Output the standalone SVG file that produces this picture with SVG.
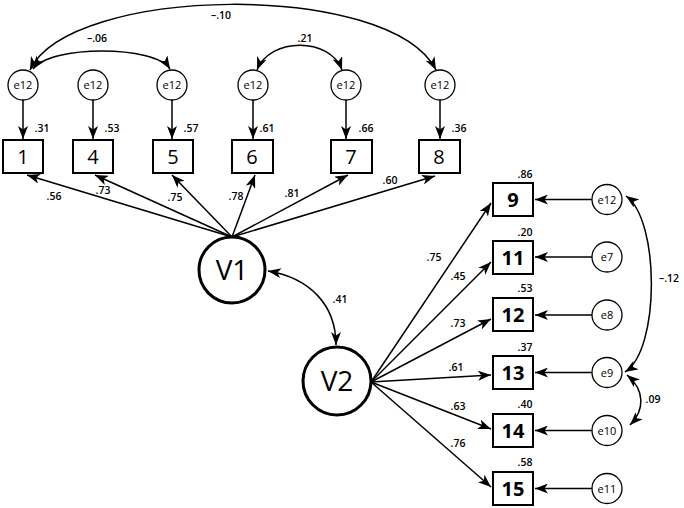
<svg xmlns="http://www.w3.org/2000/svg" width="684" height="508" viewBox="0 0 684 508">
<style>
text{font-family:"Open Sans","Liberation Sans",sans-serif;fill:#000;text-anchor:middle}
.num{font-size:10.5px;font-weight:600}
.el{font-size:11px}
.bl{font-size:20px}
.blb{font-size:20px;font-weight:700}
.vl{font-size:28px}
.e{fill:#fff;stroke:#000;stroke-width:1.3}
.box{fill:#fff;stroke:#000;stroke-width:2}
.lat{fill:#fff;stroke:#000;stroke-width:3}
.c{fill:none;stroke:#000;stroke-width:1.5}
.ar{marker-end:url(#ah)}
.dd{marker-start:url(#ah);marker-end:url(#ah)}
</style>
<defs>
<marker id="ah" viewBox="0 0 13 10" refX="13" refY="5" markerWidth="13" markerHeight="10" markerUnits="userSpaceOnUse" orient="auto-start-reverse">
<path d="M0,0 L13,5 L0,10 L3.5,5 z" fill="#000"/>
</marker>
</defs>
<g id="connectors">
<path class="c dd" d="M30,70 C70,-15 390,-20 436,70"/>
<path class="c dd" d="M33,69 C50,45 155,45 170,69"/>
<path class="c dd" d="M257,70 C270,37 330,37 342,70"/>
<path class="c dd" d="M626,196 C660,220 660,350 625,372"/>
<path class="c dd" d="M627,375 C645,390 645,410 630,425"/>
<path class="c dd" d="M268,271 C310,278 336,305 336,345"/>
<line class="c ar" x1="23" y1="100" x2="23" y2="139"/>
<line class="c ar" x1="93" y1="100" x2="93" y2="139"/>
<line class="c ar" x1="172" y1="100" x2="172" y2="139"/>
<line class="c ar" x1="253" y1="100" x2="253" y2="139"/>
<line class="c ar" x1="346" y1="100" x2="346" y2="139"/>
<line class="c ar" x1="440" y1="100" x2="440" y2="139"/>
<line class="c ar" x1="232" y1="237" x2="27" y2="175"/>
<line class="c ar" x1="232" y1="237" x2="95" y2="175"/>
<line class="c ar" x1="232" y1="237" x2="172" y2="175"/>
<line class="c ar" x1="232" y1="237" x2="255" y2="175"/>
<line class="c ar" x1="232" y1="237" x2="348" y2="175"/>
<line class="c ar" x1="232" y1="237" x2="435" y2="176"/>
<line class="c ar" x1="371" y1="382" x2="491" y2="203"/>
<line class="c ar" x1="371" y1="382" x2="491" y2="262"/>
<line class="c ar" x1="371" y1="382" x2="491" y2="319"/>
<line class="c ar" x1="371" y1="382" x2="491" y2="375"/>
<line class="c ar" x1="371" y1="382" x2="491" y2="429"/>
<line class="c ar" x1="371" y1="382" x2="491" y2="487"/>
<line class="c ar" x1="592" y1="199.5" x2="535" y2="199.5"/>
<line class="c ar" x1="592" y1="257" x2="535" y2="257"/>
<line class="c ar" x1="592" y1="315" x2="535" y2="315"/>
<line class="c ar" x1="592" y1="372.5" x2="535" y2="372.5"/>
<line class="c ar" x1="592" y1="430.5" x2="535" y2="430.5"/>
<line class="c ar" x1="592" y1="488.5" x2="535" y2="488.5"/>
<text class="num" x="221" y="19">–.10</text>
<text class="num" x="97" y="42">–.06</text>
<text class="num" x="305" y="42">.21</text>
<text class="num" x="669" y="282">–.12</text>
<text class="num" x="653" y="403">.09</text>
<text class="num" x="340" y="303">.41</text>
<text class="num" x="54" y="200">.56</text>
<text class="num" x="103" y="194">.73</text>
<text class="num" x="175" y="201">.75</text>
<text class="num" x="236" y="200">.78</text>
<text class="num" x="292" y="197">.81</text>
<text class="num" x="390" y="184">.60</text>
<text class="num" x="434" y="261">.75</text>
<text class="num" x="458" y="280">.45</text>
<text class="num" x="458" y="327">.73</text>
<text class="num" x="456" y="371">.61</text>
<text class="num" x="458" y="410">.63</text>
<text class="num" x="458" y="447">.76</text>
</g>
<g id="e1"><circle class="e" cx="23" cy="85" r="15"/><text class="el" x="23" y="89">e12</text></g>
<g id="e4"><circle class="e" cx="93" cy="85" r="15"/><text class="el" x="93" y="89">e12</text></g>
<g id="e5"><circle class="e" cx="172" cy="85" r="15"/><text class="el" x="172" y="89">e12</text></g>
<g id="e6"><circle class="e" cx="253" cy="85" r="15"/><text class="el" x="253" y="89">e12</text></g>
<g id="e7t"><circle class="e" cx="346" cy="85" r="15"/><text class="el" x="346" y="89">e12</text></g>
<g id="e8t"><circle class="e" cx="440" cy="85" r="15"/><text class="el" x="440" y="89">e12</text></g>
<g id="n1"><rect class="box" x="3" y="140" width="40" height="33"/><text class="bl" x="23" y="164">1</text><text class="num" x="42" y="132">.31</text></g>
<g id="n4"><rect class="box" x="73" y="140" width="40" height="33"/><text class="bl" x="93" y="164">4</text><text class="num" x="112" y="132">.53</text></g>
<g id="n5"><rect class="box" x="153" y="140" width="40" height="33"/><text class="bl" x="173" y="164">5</text><text class="num" x="191" y="132">.57</text></g>
<g id="n6"><rect class="box" x="232" y="140" width="41" height="33"/><text class="bl" x="252" y="164">6</text><text class="num" x="267" y="132">.61</text></g>
<g id="n7"><rect class="box" x="331" y="140" width="41" height="33"/><text class="bl" x="351" y="164">7</text><text class="num" x="366" y="132">.66</text></g>
<g id="n8"><rect class="box" x="419" y="140" width="41" height="33"/><text class="bl" x="439" y="164">8</text><text class="num" x="459" y="132">.36</text></g>
<g id="V1"><circle class="lat" cx="232" cy="270" r="33"/><text class="vl" x="232" y="280">V1</text></g>
<g id="V2"><circle class="lat" cx="337" cy="381" r="34"/><text class="vl" x="337" y="391">V2</text></g>
<g id="n9"><rect class="box" x="493" y="183" width="40" height="33"/><text class="blb" x="513" y="207">9</text><text class="num" x="525" y="178">.86</text></g>
<g id="n11"><rect class="box" x="493" y="241" width="40" height="33"/><text class="blb" x="513" y="265">11</text><text class="num" x="525" y="236">.20</text></g>
<g id="n12"><rect class="box" x="493" y="298" width="40" height="33"/><text class="blb" x="513" y="322">12</text><text class="num" x="525" y="292">.53</text></g>
<g id="n13"><rect class="box" x="493" y="356" width="40" height="33"/><text class="blb" x="513" y="380">13</text><text class="num" x="525" y="351">.37</text></g>
<g id="n14"><rect class="box" x="493" y="414" width="40" height="33"/><text class="blb" x="513" y="438">14</text><text class="num" x="525" y="408">.40</text></g>
<g id="n15"><rect class="box" x="493" y="472" width="40" height="33"/><text class="blb" x="513" y="496">15</text><text class="num" x="525" y="466">.58</text></g>
<g id="er12"><circle class="e" cx="607" cy="199.5" r="15"/><text class="el" x="607" y="203.5">e12</text></g>
<g id="er7"><circle class="e" cx="607" cy="257" r="15"/><text class="el" x="607" y="261">e7</text></g>
<g id="er8"><circle class="e" cx="607" cy="315" r="15"/><text class="el" x="607" y="319">e8</text></g>
<g id="er9"><circle class="e" cx="607" cy="372.5" r="15"/><text class="el" x="607" y="376.5">e9</text></g>
<g id="er10"><circle class="e" cx="607" cy="430.5" r="15"/><text class="el" x="607" y="434.5">e10</text></g>
<g id="er11"><circle class="e" cx="607" cy="488.5" r="15"/><text class="el" x="607" y="492.5">e11</text></g>
</svg>
